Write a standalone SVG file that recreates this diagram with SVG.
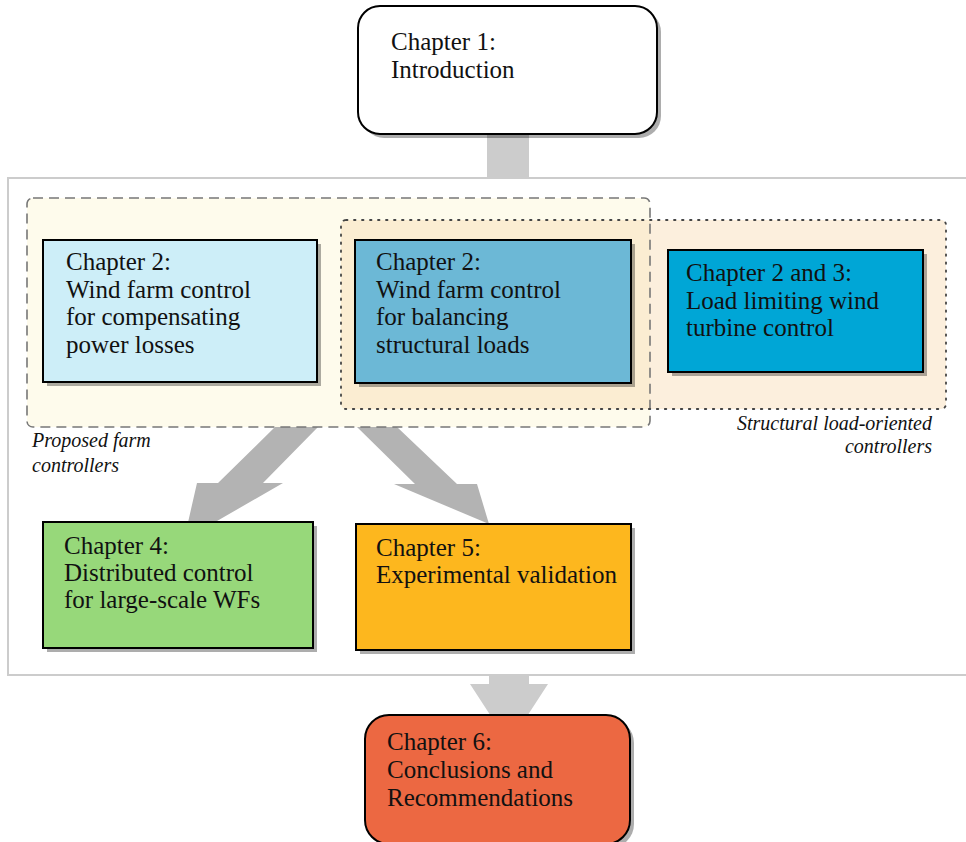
<svg xmlns="http://www.w3.org/2000/svg" width="966" height="842" viewBox="0 0 966 842">
<style>
  text { font-family: "Liberation Serif", "DejaVu Serif", serif; fill: #111; }
  .t { font-size: 25px; }
  .lbl { font-size: 20px; font-style: italic; }
  .box { stroke: #000; stroke-width: 2; }
  .shadow { fill: #000; opacity: 0.32; }
  .fat { fill: #b3b3b3; }
  .pale { fill: #cccccc; }
</style>
<rect width="966" height="842" fill="#fff"/>

<!-- outer frame -->
<rect id="frame" x="8" y="178" width="970" height="497" fill="none" stroke="#cccccc" stroke-width="2"/>

<!-- group regions -->
<g id="proposed-region">
  <rect x="27" y="198" width="623" height="229" rx="6" fill="#fefbec"/>
</g>
<g id="structural-region">
  <rect x="341" y="220" width="605" height="189" rx="5" fill="#f8dcb4" fill-opacity="0.45"/>
</g>

<!-- connectors -->
<g id="connectors">
  <rect class="pale" x="487" y="134" width="42" height="44"/>
  <polygon class="fat" points="275,427 318,427 263,483 283,483 184,540 197,483 218,483"/>
  <polygon class="fat" points="357,427 397,427 457,484 477,484 489,524 394,484 415,484"/>
  <polygon class="pale" points="489,675 529,675 529,684 548,684 509,744 470,684 489,684"/>
</g>

<!-- region borders on top -->
<rect x="27" y="198" width="623" height="229" rx="6" fill="none" stroke="#777" stroke-width="1.6" stroke-dasharray="10,6"/>
<rect x="341" y="220" width="605" height="189" rx="5" fill="none" stroke="#444" stroke-width="1.8" stroke-dasharray="1.5,6.5" stroke-linecap="round"/>
<text class="lbl" x="32" y="447">Proposed farm</text>
<text class="lbl" x="32" y="472">controllers</text>
<text class="lbl" x="932" y="430" text-anchor="end">Structural load-oriented</text>
<text class="lbl" x="932" y="453" text-anchor="end">controllers</text>

<g id="ch1">
  <rect class="shadow" x="362" y="10" width="299" height="128" rx="22"/>
  <rect class="box" x="358" y="6" width="299" height="128" rx="22" fill="#ffffff"/>
  <text class="t" x="391" y="50">Chapter 1:</text>
  <text class="t" x="391" y="78">Introduction</text>
</g>

<g id="ch2-power">
  <rect class="shadow" x="47" y="244" width="274" height="142"/>
  <rect class="box" x="43" y="240" width="274" height="142" fill="#cdeef8"/>
  <text class="t" x="66" y="270">Chapter 2:</text>
  <text class="t" x="66" y="298">Wind farm control</text>
  <text class="t" x="66" y="325">for compensating</text>
  <text class="t" x="66" y="353">power losses</text>
</g>

<g id="ch2-loads">
  <rect class="shadow" x="359" y="244" width="276" height="143"/>
  <rect class="box" x="355" y="240" width="276" height="143" fill="#6cb8d6"/>
  <text class="t" x="376" y="270">Chapter 2:</text>
  <text class="t" x="376" y="298">Wind farm control</text>
  <text class="t" x="376" y="325">for balancing</text>
  <text class="t" x="376" y="353">structural loads</text>
</g>

<g id="ch23">
  <rect class="shadow" x="672" y="254" width="255" height="122"/>
  <rect class="box" x="668" y="250" width="255" height="122" fill="#00a6d6"/>
  <text class="t" x="686" y="281">Chapter 2 and 3:</text>
  <text class="t" x="686" y="309">Load limiting wind</text>
  <text class="t" x="686" y="336">turbine control</text>
</g>

<g id="ch4">
  <rect class="shadow" x="47" y="526" width="270" height="126"/>
  <rect class="box" x="43" y="522" width="270" height="126" fill="#97d87a"/>
  <text class="t" x="64" y="554">Chapter 4:</text>
  <text class="t" x="64" y="581">Distributed control</text>
  <text class="t" x="64" y="608">for large-scale WFs</text>
</g>

<g id="ch5">
  <rect class="shadow" x="360" y="528" width="275" height="126"/>
  <rect class="box" x="356" y="524" width="275" height="126" fill="#fdb71e"/>
  <text class="t" x="376" y="556">Chapter 5:</text>
  <text class="t" x="376" y="583">Experimental validation</text>
</g>

<g id="ch6">
  <rect class="shadow" x="369" y="719" width="265" height="129" rx="24"/>
  <rect class="box" x="365" y="715" width="265" height="129" rx="24" fill="#ec6842"/>
  <text class="t" x="387" y="750">Chapter 6:</text>
  <text class="t" x="387" y="778">Conclusions and</text>
  <text class="t" x="387" y="806">Recommendations</text>
</g>
</svg>
